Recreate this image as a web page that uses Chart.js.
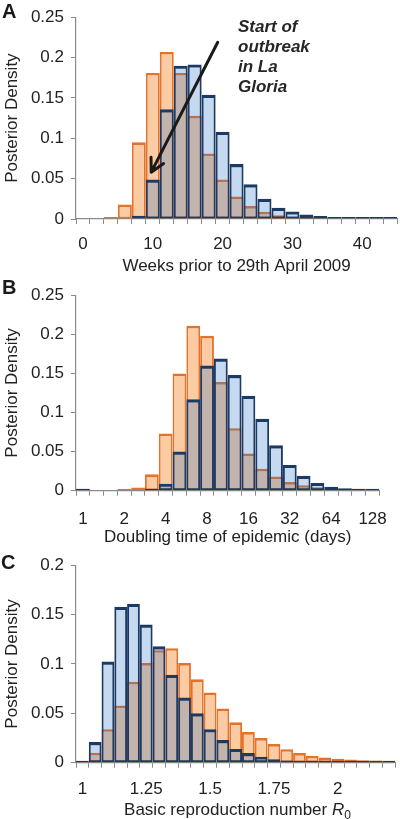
<!DOCTYPE html>
<html><head><meta charset="utf-8">
<script src="https://cdn.jsdelivr.net/npm/chart.js@4.4.1/dist/chart.umd.min.js"></script>
<style>
html,body{margin:0;padding:0;background:#fff;}
body{width:400px;height:819px;position:relative;overflow:hidden;font-family:'Liberation Sans',Arial,sans-serif;color:#222;}
canvas{position:absolute;left:0;}
.lbl{position:absolute;font-weight:bold;font-size:20px;line-height:20px;color:#1a1a1a;}
.note{position:absolute;left:238px;top:17.4px;font-weight:bold;font-style:italic;font-size:17px;line-height:20px;color:#262626;white-space:nowrap;}
.xt{position:absolute;left:76px;width:323px;top:799.6px;text-align:center;font-size:17px;line-height:20px;color:#222;white-space:nowrap;}
.xt sub{font-size:12px;vertical-align:-4px;line-height:0;}
</style></head><body>
<canvas id="cA" width="400" height="277" style="top:0px;width:400px;height:277px"></canvas>
<canvas id="cB" width="400" height="270" style="top:278px;width:400px;height:270px"></canvas>
<canvas id="cC" width="400" height="271" style="top:548px;width:400px;height:271px"></canvas>
<div class="lbl" style="left:2px;top:1.4px">A</div>
<div class="lbl" style="left:2px;top:277.4px">B</div>
<div class="lbl" style="left:1px;top:552.4px">C</div>
<div class="note">Start of<br>outbreak<br>in La<br>Gloria</div>
<div class="xt">Basic reproduction number <i>R</i><sub>0</sub></div>
<script>
// ---------- Panel A: weeks prior to 29th April 2009 ----------
const weeksCategories = ['0','2','4','6','8','10','12','14','16','18','20','22','24','26','28','30','32','34','36','38','40','42','44'];
const weeksTickLabels = ['0','10','20','30','40'];
const weeksOrange = [null,null,0.001,0.018,0.095,0.181,0.207,0.181,0.128,0.081,0.049,0.028,0.016,0.009,0.0045,0.0025,0.001,0.0005,null,null,null,null,null];
const weeksBlue   = [null,null,null,null,0.004,0.049,0.136,0.190,0.1915,0.154,0.108,0.068,0.043,0.025,0.014,0.0094,0.0057,0.0037,0.0025,0.0016,0.001,0.0008,0.0005];

// ---------- Panel B: doubling time (days, log2 bins) ----------
const doublingCategories = ['1','1.26','1.59','2','2.52','3.17','4','5.04','6.35','8','10.1','12.7','16','20.2','25.4','32','40.3','50.8','64','80.6','102','128'];
const doublingTickLabels = ['1','2','4','8','16','32','64','128'];
const doublingOrange = [0.001,null,null,0.001,0.004,0.021,0.073,0.150,0.211,0.198,0.139,0.080,0.0476,0.028,0.018,0.011,0.007,0.0045,0.003,0.001,0.0005,null];
const doublingBlue   = [0.002,null,null,null,null,0.0016,0.009,0.050,0.117,0.160,0.169,0.148,0.1215,0.092,0.058,0.033,0.019,0.010,0.005,0.003,0.0012,0.0006];

// ---------- Panel C: basic reproduction number R0 ----------
const r0Categories = ['1','1.05','1.1','1.15','1.2','1.25','1.3','1.35','1.4','1.45','1.5','1.55','1.6','1.65','1.7','1.75','1.8','1.85','1.9','1.95','2','2.05','2.1','2.15','2.2'];
const r0TickLabels = ['1','1.25','1.5','1.75','2'];
const r0Orange = [0.001,0.010,0.034,0.058,0.082,0.101,0.114,0.116,0.101,0.0845,0.071,0.055,0.041,0.031,0.025,0.019,0.0137,0.0098,0.0069,0.0052,0.0039,0.0033,0.0026,0.0023,0.002];
const r0Blue   = [0.001,0.021,0.1025,0.158,0.161,0.140,0.118,0.089,0.066,0.050,0.034,0.023,0.014,0.0098,0.0059,0.0036,0.0023,0.0016,0.001,0.0007,0.0005,0.0004,0.0003,0.0002,0.0002];

// annotation arrow in (bin index, density) coordinates of panel A
const arrowTail = [9.65, 0.219];
const arrowTip  = [4.89, 0.058];

const ORANGE_FILL = 'rgb(251,203,163)';
const ORANGE_LINE = '#e5722a';
const BLUE_FILL = 'rgba(41,115,200,0.27)';
const BLUE_LINE = '#1c3a64';
const AXIS = '#8a8a8a';
const TXT = '#222';
const BW_BLUE = {top:3.2, bottom:2, left:1.9, right:1.9};
const BW_ORANGE = {top:2.7, bottom:2, left:1.9, right:1.9};

Chart.defaults.font.family = "'Liberation Sans', Arial, sans-serif";
Chart.defaults.font.size = 17;
Chart.defaults.color = TXT;

const arrowPlugin = {
  id: 'arrowNote',
  afterDatasetsDraw(chart) {
    const xs = chart.scales.x, ys = chart.scales.y, ctx = chart.ctx;
    const x1 = xs.getPixelForValue(arrowTail[0]), y1 = ys.getPixelForValue(arrowTail[1]);
    const x2 = xs.getPixelForValue(arrowTip[0]),  y2 = ys.getPixelForValue(arrowTip[1]);
    const ang = Math.atan2(y1 - y2, x1 - x2);
    const L = 15, h = 28 * Math.PI / 180;
    ctx.save();
    ctx.strokeStyle = '#1a1a1a';
    ctx.lineWidth = 3;
    ctx.lineCap = 'round';
    ctx.lineJoin = 'round';
    ctx.beginPath();
    ctx.moveTo(x1, y1); ctx.lineTo(x2, y2);
    ctx.moveTo(x2 + L * Math.cos(ang + h), y2 + L * Math.sin(ang + h));
    ctx.lineTo(x2, y2);
    ctx.lineTo(x2 + L * Math.cos(ang - h), y2 + L * Math.sin(ang - h));
    ctx.stroke();
    ctx.restore();
  }
};

function panel(id, cats, shown, orange, blue, ymax, g, xTitle, plugins) {
  const common = {borderSkipped: false, grouped: false, barPercentage: 1, categoryPercentage: 1, minBarLength: 2, inflateAmount: 0};
  return new Chart(document.getElementById(id), {
    type: 'bar',
    data: {
      labels: cats,
      datasets: [
        Object.assign({label: 'Blue', data: blue, backgroundColor: BLUE_FILL, borderColor: BLUE_LINE, borderWidth: BW_BLUE, order: 0}, common),
        Object.assign({label: 'Orange', data: orange, backgroundColor: ORANGE_FILL, borderColor: ORANGE_LINE, borderWidth: BW_ORANGE, order: 1}, common)
      ]
    },
    plugins: plugins || [],
    options: {
      responsive: false,
      animation: false,
      events: [],
      layout: {padding: {top: g.top, right: g.right, bottom: 0, left: 0}},
      plugins: {legend: {display: false}, tooltip: {enabled: false}},
      scales: {
        x: {
          type: 'category',
          offset: true,
          grid: {display: true, offset: true, drawOnChartArea: false, drawTicks: true, tickLength: 5, color: AXIS, lineWidth: 1},
          border: {display: true, color: AXIS, width: 1.2},
          ticks: {
            autoSkip: false, maxRotation: 0, minRotation: 0, padding: g.xPad, color: TXT, font: {size: 17},
            callback: function (v) { const c = this.getLabelForValue(v); return shown.includes(c) ? c : ''; }
          },
          title: {display: !!xTitle, text: xTitle || '', color: TXT, font: {size: 17}, padding: {top: 0, bottom: 0}},
          afterFit: s => { s.height = g.xH; }
        },
        y: {
          min: 0, max: ymax,
          grid: {display: true, drawOnChartArea: false, drawTicks: true, tickLength: 5, color: AXIS, lineWidth: 1},
          border: {display: true, color: AXIS, width: 1.2},
          ticks: {stepSize: 0.05, padding: 7, color: TXT, font: {size: 17}, callback: v => String(+v.toFixed(2))},
          title: {display: true, text: 'Posterior Density', color: TXT, font: {size: 17}, padding: {top: 2, bottom: 0}},
          afterFit: s => { s.width = 76; }
        }
      }
    }
  });
}

panel('cA', weeksCategories, weeksTickLabels, weeksOrange, weeksBlue, 0.25,
      {top: 15, right: 1, xH: 58, xPad: 9.8}, 'Weeks prior to 29th April 2009', [arrowPlugin]);
panel('cB', doublingCategories, doublingTickLabels, doublingOrange, doublingBlue, 0.25,
      {top: 7.7, right: 6, xH: 57.3, xPad: 13.1}, 'Doubling time of epidemic (days)');
panel('cC', r0Categories, r0TickLabels, r0Orange, r0Blue, 0.2,
      {top: 11, right: 1, xH: 56.3, xPad: 11.1}, null);
</script>
</body></html>
